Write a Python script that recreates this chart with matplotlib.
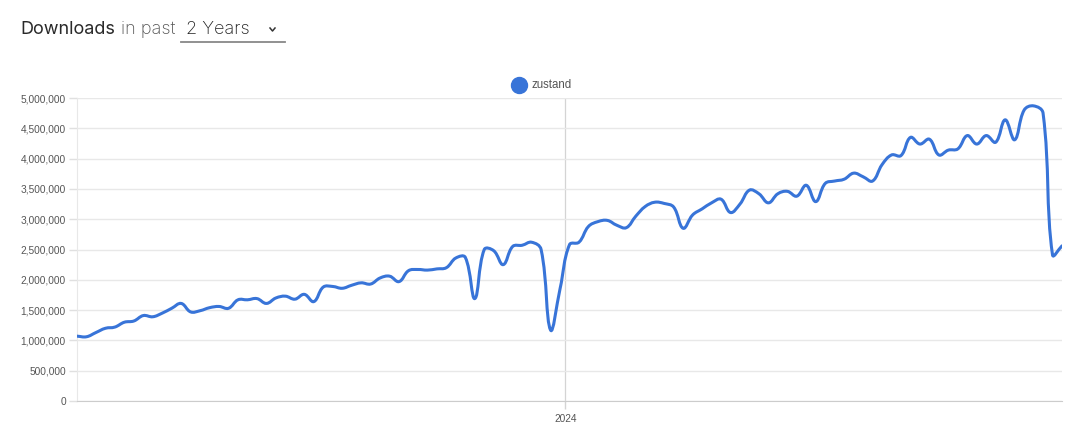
import numpy as np
import pandas as pd
import matplotlib.pyplot as plt
import matplotlib.dates as mdates
from matplotlib.path import Path
from matplotlib.patches import PathPatch
from matplotlib.lines import Line2D
from matplotlib.ticker import FuncFormatter

# weekly downloads of zustand, millions
downloads_m = [
    1.07, 1.06, 1.13, 1.20, 1.22, 1.30, 1.32, 1.41, 1.39, 1.45,
    1.53, 1.61, 1.47, 1.49, 1.54, 1.56, 1.53, 1.67, 1.67, 1.69,
    1.61, 1.70, 1.73, 1.68, 1.76, 1.64, 1.88, 1.89, 1.86, 1.91,
    1.95, 1.93, 2.03, 2.06, 1.97, 2.15, 2.17, 2.16, 2.18, 2.20,
    2.36, 2.37, 1.69, 2.50, 2.48, 2.25, 2.55, 2.57, 2.62, 2.50,
    1.17, 1.85, 2.58, 2.62, 2.88, 2.96, 2.98, 2.90, 2.86, 3.05,
    3.21, 3.28, 3.26, 3.20, 2.85, 3.07, 3.17, 3.27, 3.33, 3.11,
    3.25, 3.48, 3.42, 3.27, 3.42, 3.46, 3.38, 3.56, 3.29, 3.59,
    3.63, 3.66, 3.76, 3.70, 3.63, 3.90, 4.06, 4.05, 4.35, 4.24,
    4.32, 4.06, 4.14, 4.16, 4.38, 4.24, 4.38, 4.27, 4.64, 4.31,
    4.80, 4.87, 4.75, 2.41, 2.56,
]
package = 'zustand'
start_date = '2023-01-05'
yticks = [0, 500000, 1000000, 1500000, 2000000, 2500000,
          3000000, 3500000, 4000000, 4500000, 5000000]
year_tick = '2024-01-01'

blue = '#3874d8'
dates = pd.date_range(start_date, periods=len(downloads_m), freq='7D')
x = mdates.date2num(dates)
y = np.array(downloads_m) * 1e6

fig = plt.figure(figsize=(10.8, 4.37), dpi=100)
ax = fig.add_axes([77 / 1080, 36 / 437, 985 / 1080, 303 / 437])

# smooth line like chart.js (tension 0.4), control points in pixel space
sx = 9.47 / 7.0
sy = 303 / 5e6
tension = 0.4
cp_in, cp_out = [], []
for i in range(len(x)):
    p0 = i - 1 if i > 0 else i
    p2 = i + 1 if i < len(x) - 1 else i
    d01 = np.hypot((x[i] - x[p0]) * sx, (y[i] - y[p0]) * sy)
    d12 = np.hypot((x[p2] - x[i]) * sx, (y[p2] - y[i]) * sy)
    tot = d01 + d12 if d01 + d12 > 0 else 1
    fa = tension * d01 / tot
    fb = tension * d12 / tot
    dx, dy = x[p2] - x[p0], y[p2] - y[p0]
    cp_in.append((x[i] - fa * dx, y[i] - fa * dy))
    cp_out.append((x[i] + fb * dx, y[i] + fb * dy))
verts = [(x[0], y[0])]
codes = [Path.MOVETO]
for i in range(1, len(x)):
    verts += [cp_out[i - 1], cp_in[i], (x[i], y[i])]
    codes += [Path.CURVE4] * 3
ax.add_patch(PathPatch(Path(verts, codes), fill=False, edgecolor=blue,
                       lw=2.2, capstyle='round', joinstyle='round', zorder=3))

ax.set_xlim(x[0], x[-1])
ax.set_ylim(0, 5e6)
ax.set_yticks(yticks)
ax.yaxis.set_major_formatter(FuncFormatter(lambda v, p: f'{int(v):,}'))
ax.set_xticks([mdates.date2num(pd.Timestamp(year_tick))])
ax.set_xticklabels([year_tick[:4]])

ax.grid(axis='y', color='#e8e8e8', lw=1)
ax.axvline(mdates.date2num(pd.Timestamp(year_tick)), color='#d4d4d4', lw=0.9, zorder=1)
for s in ['top', 'right']:
    ax.spines[s].set_visible(False)
ax.spines['left'].set_color('#e8e8e8')
ax.spines['bottom'].set_color('#cccccc')
ax.tick_params(axis='y', length=6, width=1, color='#e0e0e0', labelsize=7.3,
               labelcolor='#555555', pad=2)
ax.tick_params(axis='x', length=6, width=1, color='#d4d4d4', labelsize=7.3,
               labelcolor='#555555', pad=3)
for lab in ax.get_xticklabels() + ax.get_yticklabels():
    lab.set_fontfamily('Liberation Sans')

# header
fig.text(20 / 1080, 1 - 29 / 437, 'Downloads', fontsize=13, color='#2a2a2a',
         family='Inter', va='center')
fig.text(121 / 1080, 1 - 29 / 437, 'in past', fontsize=13, color='#555555',
         family='Inter', fontweight='light', va='center')
fig.text(186 / 1080, 1 - 29 / 437, '2 Years', fontsize=13, color='#222222',
         family='Inter', fontweight='light', va='center')
fig.add_artist(Line2D([270 / 1080, 272.5 / 1080, 275 / 1080],
                      [1 - 28 / 437, 1 - 31 / 437, 1 - 28 / 437],
                      color='#333333', lw=1.1, transform=fig.transFigure))
fig.add_artist(Line2D([181 / 1080, 285 / 1080], [1 - 42 / 437] * 2,
                      color='#888888', lw=1.3, transform=fig.transFigure))

# legend
fig.add_artist(Line2D([519 / 1080], [1 - 85 / 437], marker='o', ms=11.5,
                      color=blue, transform=fig.transFigure, lw=0))
fig.text(531 / 1080, 1 - 85 / 437, package, fontsize=8.3, color='#555555',
         family='Liberation Sans', va='center')

fig.savefig('out.png', dpi=100)
